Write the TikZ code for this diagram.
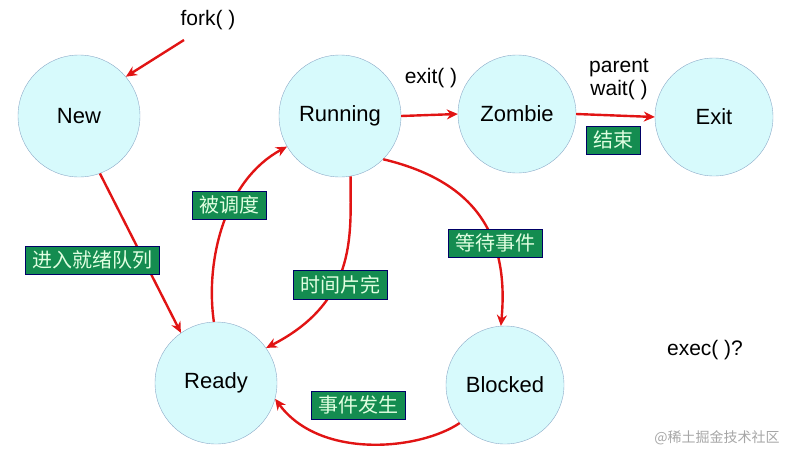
\documentclass[tikz,border=0pt]{standalone}
\usepackage{fontspec}
\setmainfont{Liberation Sans}
\newfontfamily\cjk{Noto Sans CJK SC}
\usetikzlibrary{arrows.meta}
\definecolor{cfill}{RGB}{215,250,252}
\definecolor{cline}{RGB}{140,170,200}
\definecolor{gfill}{RGB}{20,140,80}
\definecolor{gtext}{RGB}{225,255,225}
\definecolor{ared}{RGB}{225,20,20}
\begin{document}
\begin{tikzpicture}[x=1pt,y=-1pt,
  st/.style={circle,draw=cline,fill=cfill,minimum size=118pt,inner sep=0pt,font=\fontsize{22}{26}\selectfont},
  gl/.style={draw=blue!40!black,fill=gfill,text=gtext,font=\cjk\fontsize{20}{24}\selectfont,inner xsep=7pt,inner ysep=5pt},
  tx/.style={font=\fontsize{21}{25}\selectfont},
  ar/.style={draw=ared,line width=2.4pt,-{Stealth[length=11pt,width=10pt]}}]
\useasboundingbox (0,0) rectangle (803,461);
\node[st,minimum size=122pt] (new) at (79,116) {New};
\node[st,minimum size=122pt] (run) at (340,116) {Running};
\node[st] (zom) at (517,114) {Zombie};
\node[st] (exit) at (714,117) {Exit};
\node[st,minimum size=122pt] (rdy) at (216,383) {Ready};
\node[st] (blk) at (505,385) {Blocked};
\node[tx] (fork) at (208,20) {fork( )};
\node[tx] (ex) at (431,78) {exit( )};
\node[tx,align=center,inner sep=0pt] (pw) at (619,79) {parent\\[-2pt]wait( )};
\node[tx] (exec) at (705,350) {exec( )?};
\coordinate (fk) at (184,40);
\draw[ar] (fk) -- (new.40);
\draw[ar] (new.-70) -- (rdy.125);
\draw[ar] (rdy.92) .. controls (205,260) and (225,180) .. (run.-150);
\draw[ar] (run.-80) .. controls (350,230) and (360,300) .. (rdy.35);
\draw[ar] (run.-45) .. controls (470,180) and (510,230) .. (blk.94);
\draw[ar] (blk.-140) .. controls (420,450) and (320,460) .. (rdy.-15);
\draw[ar] (run.0) -- (zom.180);
\draw[ar] (zom.0) -- (exit.180);
\node[gl] (l1) at (229,205) {被调度};
\node[gl] (l2) at (92,260) {进入就绪队列};
\node[gl] (l3) at (340,285) {时间片完};
\node[gl] (l4) at (495,243) {等待事件};
\node[gl] (l5) at (358,405) {事件发生};
\node[gl] (l6) at (613,140) {结束};
\node[font=\cjk\fontsize{14}{16}\selectfont,text=gray!70] (wm) at (717,438) {@稀土掘金技术社区};
\end{tikzpicture}
\end{document}
